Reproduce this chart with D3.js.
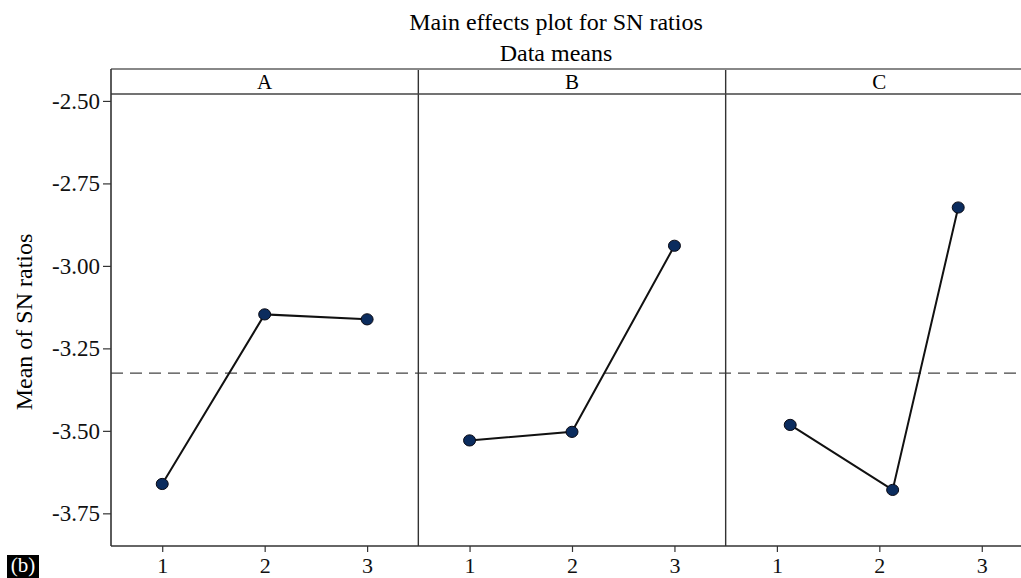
<!DOCTYPE html>
<html>
<head>
<meta charset="utf-8">
<script src="https://cdn.jsdelivr.net/npm/d3@7"></script>
<style>
  html, body { margin: 0; padding: 0; background: #fff; }
  svg { display: block; }
  svg text { font-family: "Liberation Serif", "Times New Roman", serif; }
</style>
</head>
<body>
<svg id="chart" width="1021" height="578"></svg>
<script>
// Factors and their levels
const factors = ["A", "B", "C"];
const levelTicks = [1, 2, 3];

// Plotted level positions for each factor
const levelsA = [1, 2, 3];
const levelsB = [1, 2, 3];
const levelsC = [1.13, 2.13, 2.77];

// Mean SN ratio at each level
const snA = [-3.661, -3.147, -3.162];
const snB = [-3.529, -3.503, -2.939];
const snC = [-3.482, -3.679, -2.823];

// Y-axis tick values
const yTicks = [-2.50, -2.75, -3.00, -3.25, -3.50, -3.75];

const levels = { A: levelsA, B: levelsB, C: levelsC };
const sn = { A: snA, B: snB, C: snC };

const svg = d3.select("#chart");
const plotTop = 94, plotBottom = 546, plotLeft = 111, plotRight = 1033;
const stripTop = 69;
const serif = "'Liberation Serif', 'Times New Roman', serif";

const panel = d3.scaleBand().domain(factors).range([plotLeft, plotRight]).paddingInner(0);
const y = d3.scaleLinear().domain([-3.849, -2.479]).range([plotBottom, plotTop]);

const grandMean = d3.mean(factors.flatMap(f => sn[f]));

// Reference line at the grand mean
svg.append("line")
  .attr("x1", plotLeft).attr("x2", plotRight)
  .attr("y1", y(grandMean)).attr("y2", y(grandMean))
  .attr("stroke", "#444").attr("stroke-width", 1.4)
  .attr("stroke-dasharray", "12,7");

factors.forEach(f => {
  const x0 = panel(f);
  const x = d3.scaleLinear().domain([0.5, 3.5]).range([x0, x0 + panel.bandwidth()]);
  const pts = levels[f].map((lv, i) => [lv, sn[f][i]]);

  // Strip with factor name
  svg.append("text")
    .attr("x", x(2)).attr("y", 89)
    .attr("text-anchor", "middle")
    .style("font-family", serif)
    .style("font-size", "21px")
    .text(f);

  // Effect line
  svg.append("path")
    .datum(pts)
    .attr("fill", "none")
    .attr("stroke", "#111")
    .attr("stroke-width", 2)
    .attr("d", d3.line().x(d => x(d[0])).y(d => y(d[1])));

  // Level means
  svg.selectAll(null)
    .data(pts)
    .join("ellipse")
    .attr("cx", d => x(d[0])).attr("cy", d => y(d[1]))
    .attr("rx", 6).attr("ry", 5.6)
    .attr("fill", "#0b2c5e")
    .attr("stroke", "#0a0a14").attr("stroke-width", 1);

  // Level axis
  const ax = svg.append("g")
    .attr("transform", `translate(0,${plotBottom})`)
    .call(d3.axisBottom(x).tickValues(levelTicks).tickSize(6).tickPadding(5).tickFormat(d3.format("d")));
  ax.attr("font-family", null).attr("font-size", null);
  ax.select(".domain").remove();
  ax.selectAll(".tick line").attr("stroke", "#333").attr("stroke-width", 1.2);
  ax.selectAll(".tick text")
    .style("font-family", serif).style("font-size", "22px").attr("fill", "#111");

  // Panel divider
  if (f !== factors[0]) {
    svg.append("line")
      .attr("x1", x0).attr("x2", x0)
      .attr("y1", stripTop).attr("y2", plotBottom)
      .attr("stroke", "#333").attr("stroke-width", 1.4);
  }
});

// Frame: strip borders, left edge, bottom
svg.append("line").attr("x1", plotLeft).attr("x2", plotRight).attr("y1", stripTop).attr("y2", stripTop)
  .attr("stroke", "#888").attr("stroke-width", 2);
svg.append("line").attr("x1", plotLeft).attr("x2", plotRight).attr("y1", plotTop).attr("y2", plotTop)
  .attr("stroke", "#444").attr("stroke-width", 1.6);
svg.append("line").attr("x1", plotLeft).attr("x2", plotLeft).attr("y1", stripTop).attr("y2", plotBottom)
  .attr("stroke", "#333").attr("stroke-width", 1.6);
svg.append("line").attr("x1", plotLeft).attr("x2", plotRight).attr("y1", plotBottom).attr("y2", plotBottom)
  .attr("stroke", "#333").attr("stroke-width", 1.6);

// Y axis
const ay = svg.append("g")
  .attr("transform", `translate(${plotLeft},0)`)
  .call(d3.axisLeft(y).tickValues(yTicks).tickSize(8).tickPadding(3).tickFormat(d => d.toFixed(2)));
ay.attr("font-family", null).attr("font-size", null);
ay.select(".domain").remove();
ay.selectAll(".tick line").attr("stroke", "#333").attr("stroke-width", 1.2);
ay.selectAll(".tick text")
  .style("font-family", serif).style("font-size", "23px").attr("fill", "#111");

// Titles
svg.append("text").attr("x", 556).attr("y", 30).attr("text-anchor", "middle")
  .style("font-family", serif).style("font-size", "24px").text("Main effects plot for SN ratios");
svg.append("text").attr("x", 556).attr("y", 61).attr("text-anchor", "middle")
  .style("font-family", serif).style("font-size", "24px").text("Data means");

svg.append("text")
  .attr("transform", `translate(32,${(plotTop + plotBottom) / 2 + 2}) rotate(-90)`)
  .attr("text-anchor", "middle")
  .style("font-family", serif).style("font-size", "24px")
  .text("Mean of SN ratios");

// Panel tag
svg.append("rect").attr("x", 7).attr("y", 555).attr("width", 32).attr("height", 23).attr("fill", "#000");
svg.append("text").attr("x", 23).attr("y", 572).attr("text-anchor", "middle")
  .style("font-family", serif).style("font-size", "21px").attr("fill", "#fff").text("(b)");
</script>
</body>
</html>
